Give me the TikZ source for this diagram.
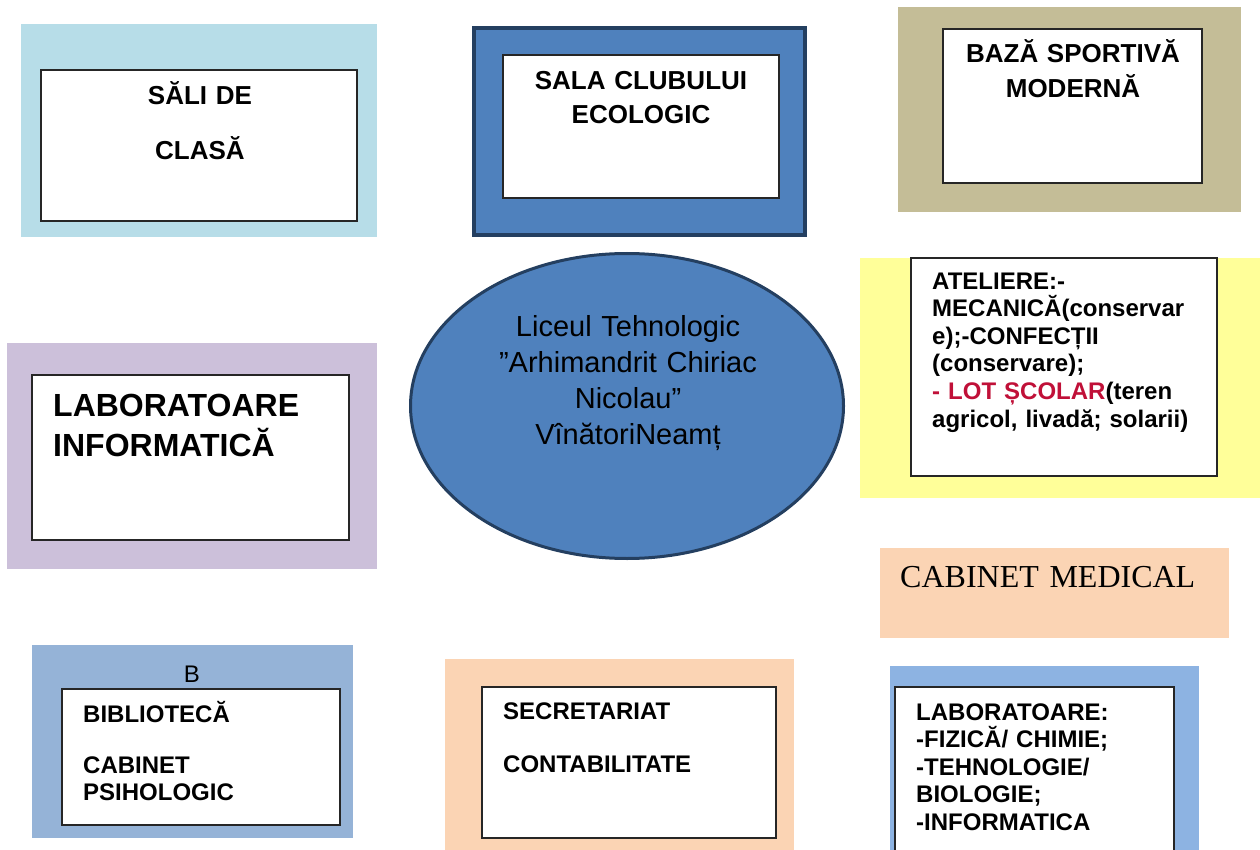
\documentclass[tikz,border=0pt]{standalone}
\usepackage{fontspec}
\setmainfont{Liberation Sans}
\newfontfamily\seriffont{Liberation Serif}
\usetikzlibrary{shapes.geometric}
\definecolor{clasablue}{RGB}{183,221,232}
\definecolor{clubblue}{RGB}{79,129,189}
\definecolor{clubedge}{RGB}{36,63,96}
\definecolor{sporttan}{RGB}{196,189,151}
\definecolor{atelieryellow}{RGB}{255,255,153}
\definecolor{infolilac}{RGB}{204,192,218}
\definecolor{medpeach}{RGB}{251,212,180}
\definecolor{biblioblue}{RGB}{149,179,215}
\definecolor{labblue}{RGB}{141,179,226}
\definecolor{lotred}{RGB}{192,16,56}

\begin{document}
\begin{tikzpicture}[x=1pt, y=-1pt,
    card/.style={draw=black!85, line width=1.2pt, fill=white},
    head/.style={font=\bfseries\fontsize{26}{30}\selectfont, text width=320pt, align=center, anchor=base, inner sep=0pt},
    list/.style={font=\bfseries\fontsize{24}{27.6}\selectfont, text width=320pt, align=left, anchor=base west, inner sep=0pt}]
  \useasboundingbox (0,0) rectangle (1260,850);

  % coloured panels with white cards
  \fill[clasablue] (21,24) rectangle (377,237);
  \draw[card] (41,70) rectangle (357,221);
  \draw[clubedge, fill=clubblue, line width=4pt] (474,28) rectangle (805,235);
  \draw[card] (503,55) rectangle (779,198);
  \fill[sporttan] (898,7) rectangle (1241,212);
  \draw[card] (943,29) rectangle (1202,183);
  \fill[atelieryellow] (860,258) rectangle (1260,498);
  \draw[card] (911,258) rectangle (1217,476);
  \fill[infolilac] (7,343) rectangle (377,569);
  \draw[card] (32,375) rectangle (349,540);
  \fill[medpeach] (880,548) rectangle (1229,638);
  \fill[biblioblue] (32,645) rectangle (353,838);
  \draw[card] (62,689) rectangle (340,825);
  \fill[medpeach] (445,659) rectangle (794,850);
  \draw[card] (482,687) rectangle (776,838);
  \fill[labblue] (890,666) rectangle (1199,850);
  \draw[card] (895,687) rectangle (1174,860);

  % centre
  \node[ellipse, draw=clubedge, line width=3pt, fill=clubblue,
    minimum width=433pt, minimum height=305pt] (liceu) at (627,406) {};
  \node[head, font=\fontsize{29}{36}\selectfont] (liceuname) at (628,336)
    {Liceul Tehnologic\\”Arhimandrit Chiriac\\Nicolau”\\VînătoriNeamț};

  % labels
  \node[head] (clase) at (200,105) {SĂLI DE\\[25pt]CLASĂ};
  \node[head] (club) at (641,90) {SALA CLUBULUI\\[4pt]ECOLOGIC};
  \node[head] (sport) at (1073,63) {BAZĂ SPORTIVĂ\\[5pt]MODERNĂ};
  \node[list] (ateliere) at (932,289)
    {ATELIERE:-\\MECANICĂ(conservar\\e);-CONFECȚII\\(conservare);\\\textcolor{lotred}{- LOT ȘCOLAR}(teren\\agricol, livadă; solarii)};
  \node[list, font=\bfseries\fontsize{32}{40}\selectfont] (infolab) at (53,416)
    {LABORATOARE\\INFORMATICĂ};
  \node[list, font=\seriffont\fontsize{32}{38}\selectfont] (medical) at (900,587)
    {CABINET MEDICAL};
  \node[head, font=\fontsize{24}{28}\selectfont] (biblioB) at (192,682) {B};
  \node[list] (biblio) at (83,722)
    {BIBLIOTECĂ\\[23.4pt]CABINET\\PSIHOLOGIC};
  \node[list] (secretariat) at (503,719)
    {SECRETARIAT\\[25.4pt]CONTABILITATE};
  \node[list] (labs) at (916,720)
    {LABORATOARE:\\-FIZICĂ/ CHIMIE;\\-TEHNOLOGIE/\\BIOLOGIE;\\-INFORMATICA};
\end{tikzpicture}
\end{document}
